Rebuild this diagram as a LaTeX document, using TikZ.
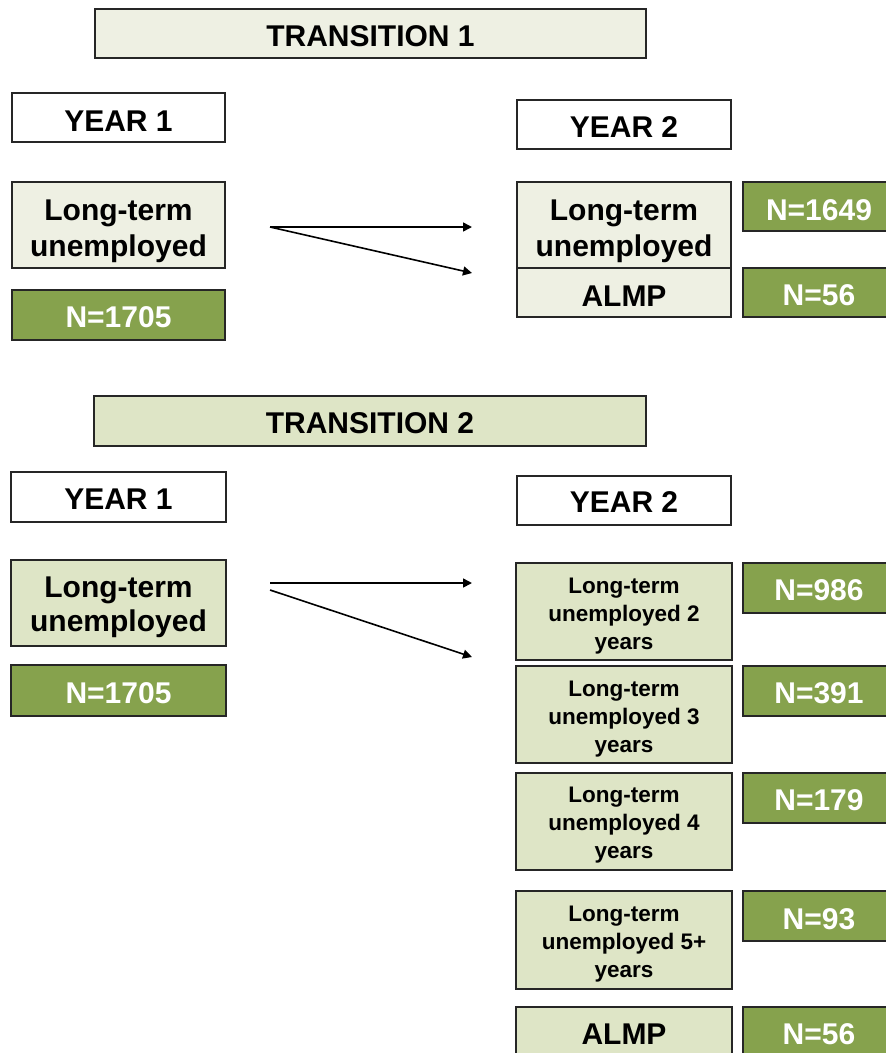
\documentclass[tikz,border=0pt]{standalone}
\usepackage{fontspec}
\setmainfont{Liberation Sans}
\usetikzlibrary{arrows.meta}
\definecolor{grn}{HTML}{86A24D}
\definecolor{paleA}{HTML}{EEF0E3}
\definecolor{paleB}{HTML}{DEE5C6}
% invisible strut that moves the text of a node down
\newcommand\tdn[1]{\rule{0pt}{#1pt}}
\begin{document}
\begin{tikzpicture}[x=1pt,y=-1pt]
\useasboundingbox (0,0) rectangle (886,1053);
\tikzset{
  bx/.style={draw=black!85, line width=1.4pt, inner sep=0pt, align=center, text=black,
    font=\bfseries\fontsize{30}{36}\selectfont},
  wbox/.style={bx, fill=white},
  pabox/.style={bx, fill=paleA},
  pbbox/.style={bx, fill=paleB},
  smallbox/.style={bx, fill=paleB, font=\bfseries\fontsize{22.5}{28}\selectfont},
  gbox/.style={bx, fill=grn, text=white},
  arr/.style={line width=1.6pt, -{Triangle[length=9pt,width=9pt]}}
}
% ---------- Transition 1 ----------
\node[pabox, minimum width=551, minimum height=49] (t1) at (370.5,33.5) {\tdn{26.5}TRANSITION 1};
\node[wbox, minimum width=213, minimum height=49] (y1a) at (118.5,117.5) {\tdn{27.5}YEAR 1};
\node[wbox, minimum width=214, minimum height=49] (y2a) at (624,124.5) {\tdn{25.5}YEAR 2};
\node[pabox, minimum width=213, minimum height=86, font=\bfseries\fontsize{30}{36}\selectfont] (l1a) at (118.5,225) {\tdn{33}Long-term\\unemployed};
\node[gbox, minimum width=213, minimum height=50] (n1a) at (118.5,315) {\tdn{24.5}N=1705};
\node[pabox, minimum width=214, minimum height=86] (l2a) at (624,225) {\tdn{33}Long-term\\unemployed};
\node[pabox, minimum width=214, minimum height=49] (a2a) at (624,292.5) {\tdn{27.5}ALMP};
\node[gbox, minimum width=152, minimum height=49] (g1a) at (819,206.5) {\tdn{27.5}N=1649};
\node[gbox, minimum width=152, minimum height=49] (g2a) at (819,292.5) {\tdn{26.5}N=56};
\coordinate (s1) at (270,227);
\coordinate (e1) at (472,227);
\coordinate (e2) at (472,273);
\draw[arr] (s1) -- (e1);
\draw[arr] (s1) -- (e2);
% ---------- Transition 2 ----------
\node[pbbox, minimum width=552, minimum height=50] (t2) at (370,421) {\tdn{24.5}TRANSITION 2};
\node[wbox, minimum width=215, minimum height=50] (y1b) at (118.5,497) {\tdn{24.5}YEAR 1};
\node[wbox, minimum width=214, minimum height=49] (y2b) at (624,500.5) {\tdn{24.5}YEAR 2};
\node[pbbox, minimum width=215, minimum height=86, font=\bfseries\fontsize{30}{34}\selectfont] (l1b) at (118.5,603) {\tdn{29}Long-term\\unemployed};
\node[gbox, minimum width=215, minimum height=51] (n1b) at (118.5,690.5) {\tdn{25.5}N=1705};
\node[smallbox, minimum width=216, minimum height=97] (r2) at (624,611.5) {\tdn{24}Long-term\\unemployed 2\\years};
\node[smallbox, minimum width=216, minimum height=97] (r3) at (624,714.5) {\tdn{24}Long-term\\unemployed 3\\years};
\node[smallbox, minimum width=216, minimum height=97] (r4) at (624,821.5) {\tdn{23}Long-term\\unemployed 4\\years};
\node[smallbox, minimum width=216, minimum height=98] (r5) at (624,940) {\tdn{24}Long-term\\unemployed 5+\\years};
\node[pbbox, minimum width=216, minimum height=52] (ra) at (624,1033) {\tdn{22.5}ALMP};
\node[gbox, minimum width=152, minimum height=50] (g2) at (819,588) {\tdn{25.5}N=986};
\node[gbox, minimum width=152, minimum height=50] (g3) at (819,691) {\tdn{25.5}N=391};
\node[gbox, minimum width=152, minimum height=50] (g4) at (819,798) {\tdn{25.5}N=179};
\node[gbox, minimum width=152, minimum height=50] (g5) at (819,916) {\tdn{26.5}N=93};
\node[gbox, minimum width=152, minimum height=52] (ga) at (819,1033) {\tdn{22.5}N=56};
\coordinate (s2) at (270,583);
\coordinate (s3) at (270,590);
\coordinate (e3) at (472,583);
\coordinate (e4) at (472,657);
\draw[arr] (s2) -- (e3);
\draw[arr] (s3) -- (e4);
\end{tikzpicture}
\end{document}
